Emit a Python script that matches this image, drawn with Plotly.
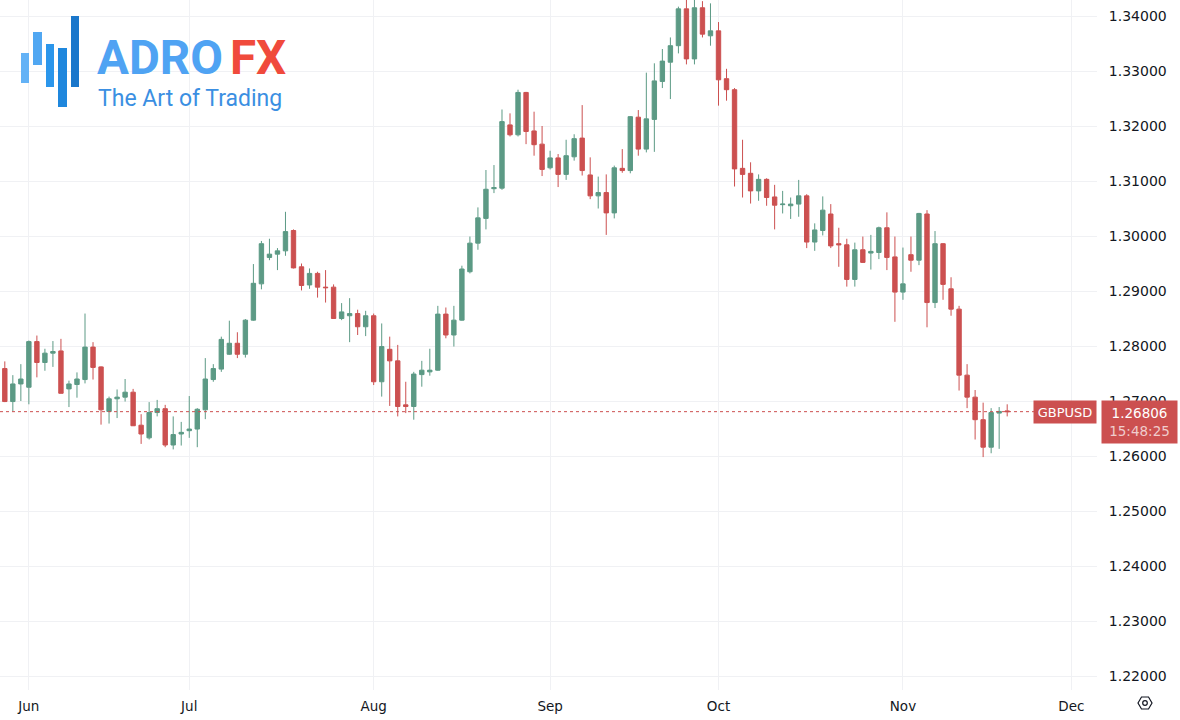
import plotly.graph_objects as go
import pandas as pd

# ---------------- data ----------------
symbol = "GBPUSD"
last_price = 1.26806
countdown = "15:48:25"
first_session = "2024-05-29"

opens = [
    1.2759, 1.2699, 1.2731,
    1.2725, 1.2808, 1.2770, 1.2787, 1.2791, 1.2722, 1.2730, 1.2739, 1.2798, 1.2762,
    1.2681, 1.2704, 1.2707, 1.2716, 1.2656, 1.2633, 1.2679, 1.2686, 1.2620, 1.2640,
    1.2646, 1.2649, 1.2684, 1.2739, 1.2758, 1.2785, 1.2805, 1.2785, 1.2847, 1.2913,
    1.2961, 1.2967, 1.2973, 1.3010, 1.2944, 1.2911, 1.2932, 1.2907, 1.2907, 1.2850,
    1.2855, 1.2859, 1.2835, 1.2855, 1.2735, 1.2794, 1.2773, 1.2693, 1.2690, 1.2748,
    1.2753, 1.2756, 1.2858, 1.2820, 1.2847, 1.2935, 1.2987, 1.3032, 1.3086, 1.3087,
    1.3202, 1.3184, 1.3261, 1.3191, 1.3167, 1.3124, 1.3142, 1.3112, 1.3144, 1.3178,
    1.3111, 1.3073, 1.3079, 1.3042, 1.3123, 1.3119, 1.3216, 1.3158, 1.3212, 1.3281,
    1.3316, 1.3346, 1.3413, 1.3322, 1.3415, 1.3364, 1.3373, 1.3286, 1.3266, 1.3123,
    1.3114, 1.3082, 1.3103, 1.3071, 1.3057, 1.3055, 1.3058, 1.3073, 1.2989, 1.3010,
    1.3040, 1.2986, 1.2984, 1.2921, 1.2975, 1.2969, 1.2970, 1.3015, 1.2962, 1.2898,
    1.2966, 1.2956, 1.3040, 1.2879, 1.2986, 1.2904, 1.2867, 1.2747, 1.2707, 1.2666,
    1.2616, 1.2678, 1.2682,
]
highs = [
    1.2772, 1.2747, 1.2767,
    1.2810, 1.2819, 1.2795, 1.2809, 1.2813, 1.2737, 1.2752, 1.2859, 1.2807, 1.2763,
    1.2708, 1.2721, 1.2740, 1.2722, 1.2676, 1.2698, 1.2702, 1.2693, 1.2672, 1.2662,
    1.2709, 1.2687, 1.2778, 1.2767, 1.2817, 1.2846, 1.2825, 1.2849, 1.2949, 1.2991,
    1.2995, 1.2978, 1.3044, 1.3012, 1.2950, 1.2941, 1.2935, 1.2938, 1.2912, 1.2878,
    1.2887, 1.2866, 1.2864, 1.2859, 1.2841, 1.2817, 1.2802, 1.2735, 1.2753, 1.2773,
    1.2795, 1.2873, 1.2870, 1.2873, 1.2946, 1.2999, 1.3052, 1.3120, 1.3129, 1.3230,
    1.3223, 1.3266, 1.3262, 1.3226, 1.3200, 1.3155, 1.3149, 1.3175, 1.3185, 1.3238,
    1.3143, 1.3108, 1.3112, 1.3128, 1.3158, 1.3218, 1.3229, 1.3297, 1.3314, 1.3340,
    1.3361, 1.3417, 1.3432, 1.3434, 1.3427, 1.3423, 1.3389, 1.3304, 1.3269, 1.3175,
    1.3134, 1.3112, 1.3105, 1.3093, 1.3082, 1.3070, 1.3102, 1.3076, 1.3023, 1.3072,
    1.3058, 1.3015, 1.2995, 1.2988, 1.2999, 1.3002, 1.3017, 1.3043, 1.2999, 1.2979,
    1.2999, 1.3042, 1.3047, 1.3009, 1.2987, 1.2925, 1.2873, 1.2767, 1.2720, 1.2697,
    1.2687, 1.2689, 1.2694,
]
lows = [
    1.2698, 1.2681, 1.2700,
    1.2694, 1.2743, 1.2755, 1.2762, 1.2714, 1.2689, 1.2706, 1.2732, 1.2739, 1.2657,
    1.2659, 1.2669, 1.2699, 1.2655, 1.2622, 1.2630, 1.2672, 1.2616, 1.2612, 1.2619,
    1.2633, 1.2616, 1.2667, 1.2735, 1.2753, 1.2784, 1.2778, 1.2779, 1.2846, 1.2903,
    1.2956, 1.2938, 1.2964, 1.2941, 1.2901, 1.2904, 1.2888, 1.2879, 1.2850, 1.2847,
    1.2807, 1.2820, 1.2818, 1.2729, 1.2708, 1.2691, 1.2672, 1.2678, 1.2666, 1.2726,
    1.2746, 1.2755, 1.2814, 1.2799, 1.2846, 1.2932, 1.2975, 1.3012, 1.3078, 1.3084,
    1.3181, 1.3181, 1.3167, 1.3146, 1.3109, 1.3121, 1.3089, 1.3102, 1.3137, 1.3110,
    1.3067, 1.3050, 1.3002, 1.3032, 1.3115, 1.3114, 1.3146, 1.3152, 1.3153, 1.3269,
    1.3249, 1.3332, 1.3312, 1.3312, 1.3361, 1.3346, 1.3237, 1.3246, 1.3090, 1.3070,
    1.3059, 1.3064, 1.3055, 1.3012, 1.3041, 1.3031, 1.3035, 1.2978, 1.2973, 1.3001,
    1.2978, 1.2944, 1.2908, 1.2908, 1.2951, 1.2939, 1.2958, 1.2938, 1.2844, 1.2884,
    1.2935, 1.2947, 1.2834, 1.2869, 1.2884, 1.2855, 1.2719, 1.2687, 1.2630, 1.2598,
    1.2605, 1.2613, 1.2672,
]
closes = [
    1.2699, 1.2731, 1.2740,
    1.2808, 1.2770, 1.2787, 1.2790, 1.2714, 1.2731, 1.2740, 1.2798, 1.2761, 1.2684,
    1.2704, 1.2707, 1.2716, 1.2655, 1.2640, 1.2679, 1.2686, 1.2620, 1.2639, 1.2643,
    1.2649, 1.2685, 1.2740, 1.2759, 1.2812, 1.2805, 1.2785, 1.2847, 1.2914, 1.2986,
    1.2967, 1.2973, 1.3008, 1.2942, 1.2910, 1.2932, 1.2907, 1.2906, 1.2850, 1.2862,
    1.2859, 1.2835, 1.2855, 1.2735, 1.2799, 1.2773, 1.2690, 1.2690, 1.2749, 1.2756,
    1.2756, 1.2858, 1.2820, 1.2847, 1.2940, 1.2987, 1.3033, 1.3085, 1.3088, 1.3208,
    1.3184, 1.3261, 1.3190, 1.3166, 1.3121, 1.3142, 1.3112, 1.3146, 1.3177, 1.3119,
    1.3073, 1.3079, 1.3042, 1.3124, 1.3119, 1.3217, 1.3158, 1.3213, 1.3282, 1.3318,
    1.3346, 1.3413, 1.3322, 1.3415, 1.3367, 1.3373, 1.3284, 1.3266, 1.3122, 1.3112,
    1.3082, 1.3103, 1.3070, 1.3056, 1.3058, 1.3058, 1.3073, 1.2989, 1.3011, 1.3047,
    1.2982, 1.2984, 1.2921, 1.2975, 1.2952, 1.2972, 1.3015, 1.2961, 1.2898, 1.2913,
    1.2956, 1.3041, 1.2879, 1.2986, 1.2912, 1.2867, 1.2747, 1.2707, 1.2666, 1.2616,
    1.2679, 1.2681, 1.26806,
]

month_ticks = ["2024-06-03", "2024-07-01", "2024-08-01", "2024-09-02",
               "2024-10-01", "2024-11-01", "2024-12-02"]
month_labels = ["Jun", "Jul", "Aug", "Sep", "Oct", "Nov", "Dec"]
price_ticks = [1.22, 1.23, 1.24, 1.25, 1.26, 1.27, 1.28, 1.29, 1.30, 1.31, 1.32, 1.33, 1.34]
price_labels = [f"{v:.5f}" for v in price_ticks]

dates = pd.bdate_range(first_session, periods=len(opens)).strftime("%Y-%m-%d").tolist()

# ---------------- style ----------------
W, H = 1180, 720
ML, MR, MT, MB = 0, 83, 0, 30
PW, PH = W - ML - MR, H - MT - MB
UP = "#5c9a85"
DOWN = "#cc5050"
GRID = "#f0f1f4"
TXT = "#131722"
FONT = "DejaVu Sans"


def px(x):
    return x / PW


def py(y):
    return 1 - y / PH


fig = go.Figure()
fig.add_trace(go.Candlestick(
    x=dates, open=opens, high=highs, low=lows, close=closes,
    increasing=dict(line=dict(color=UP, width=1), fillcolor=UP),
    decreasing=dict(line=dict(color=DOWN, width=1), fillcolor=DOWN),
    whiskerwidth=0, showlegend=False, hoverinfo="skip",
))

shapes = []
# last price dotted line
shapes.append(dict(type="line", xref="paper", yref="y", x0=0, x1=1,
                   y0=last_price, y1=last_price, layer="above",
                   line=dict(color=DOWN, width=1, dash="dot")))

# logo icon bars (pixel boxes)
logo_bars = [
    (21, 53, 29, 83, "#63b2f6"),
    (33, 32, 42, 65, "#50a7f2"),
    (46, 44, 54, 87, "#2b96eb"),
    (58, 48, 67, 107, "#1f87dd"),
    (71, 16, 79, 87, "#1a77cb"),
]
for x0, y0, x1, y1, c in logo_bars:
    shapes.append(dict(type="rect", xref="paper", yref="paper",
                       x0=px(x0), x1=px(x1), y0=py(y1), y1=py(y0),
                       fillcolor=c, line=dict(width=0), layer="above"))

# settings hexagon icon at bottom right
hx, hy = 1145, 703
hexpts = [(hx - 7, hy), (hx - 3.5, hy - 6), (hx + 3.5, hy - 6), (hx + 7, hy),
          (hx + 3.5, hy + 6), (hx - 3.5, hy + 6)]
path = "M " + " L ".join(f"{px(a):.5f},{py(b):.5f}" for a, b in hexpts) + " Z"
shapes.append(dict(type="path", xref="paper", yref="paper", path=path,
                   line=dict(color=TXT, width=1.2)))
shapes.append(dict(type="circle", xref="paper", yref="paper",
                   x0=px(hx - 2.3), x1=px(hx + 2.3), y0=py(hy + 2.3), y1=py(hy - 2.3),
                   line=dict(color=TXT, width=1.2)))

annotations = [
    dict(text="<b>ADRO</b>", xref="paper", yref="paper", x=px(95), y=py(58),
         xanchor="left", yanchor="middle", showarrow=False,
         font=dict(family="Roboto", size=47.5, color="#4fa3f3")),
    dict(text="<b>FX</b>", xref="paper", yref="paper", x=px(228), y=py(58),
         xanchor="left", yanchor="middle", showarrow=False,
         font=dict(family="Roboto", size=47.5, color="#f04a3c")),
    dict(text="The Art of Trading", xref="paper", yref="paper", x=px(96), y=py(98),
         xanchor="left", yanchor="middle", showarrow=False,
         font=dict(family="Roboto", size=23, color="#3b8fe2")),
    dict(text=symbol, xref="paper", yref="y", x=1, y=last_price,
         xanchor="right", yanchor="middle", showarrow=False,
         bgcolor=DOWN, width=60, height=20, borderpad=1,
         font=dict(family=FONT, size=13, color="white")),
    dict(text=f"{last_price:.5f}<br><span style='color:rgba(255,255,255,0.72)'>{countdown}</span>",
         xref="paper", yref="y", x=px(1101), y=last_price,
         xanchor="left", yanchor="top", yshift=12, showarrow=False,
         bgcolor=DOWN, width=73, height=40, borderpad=1, align="center",
         font=dict(family=FONT, size=13.5, color="white")),
]

fig.update_layout(
    width=W, height=H,
    margin=dict(l=ML, r=MR, t=MT, b=MB),
    paper_bgcolor="white", plot_bgcolor="white",
    boxgap=0.22,
    showlegend=False,
    shapes=shapes,
    annotations=annotations,
    font=dict(family=FONT, size=13, color=TXT),
    xaxis=dict(
        type="date",
        range=["2024-05-28 09:36", "2024-12-05 04:48"],
        rangebreaks=[dict(bounds=["sat", "mon"])],
        rangeslider=dict(visible=False),
        tickmode="array", tickvals=month_ticks, ticktext=month_labels,
        showgrid=True, gridcolor=GRID, gridwidth=1,
        ticks="outside", ticklen=4, tickcolor="rgba(0,0,0,0)",
        tickfont=dict(family=FONT, size=13.5, color=TXT),
        zeroline=False, showline=False, fixedrange=True,
    ),
    yaxis=dict(
        side="right",
        range=[1.217455, 1.342909],
        tickmode="array", tickvals=price_ticks, ticktext=price_labels,
        showgrid=True, gridcolor=GRID, gridwidth=1,
        ticks="outside", ticklen=8, tickcolor="rgba(0,0,0,0)",
        tickfont=dict(family=FONT, size=14, color=TXT),
        zeroline=False, showline=False, fixedrange=True,
    ),
)

fig.write_html(
    "out.html",
    config={"displayModeBar": False},
    post_script="document.body.style.margin='0';document.body.style.overflow='hidden';",
)
